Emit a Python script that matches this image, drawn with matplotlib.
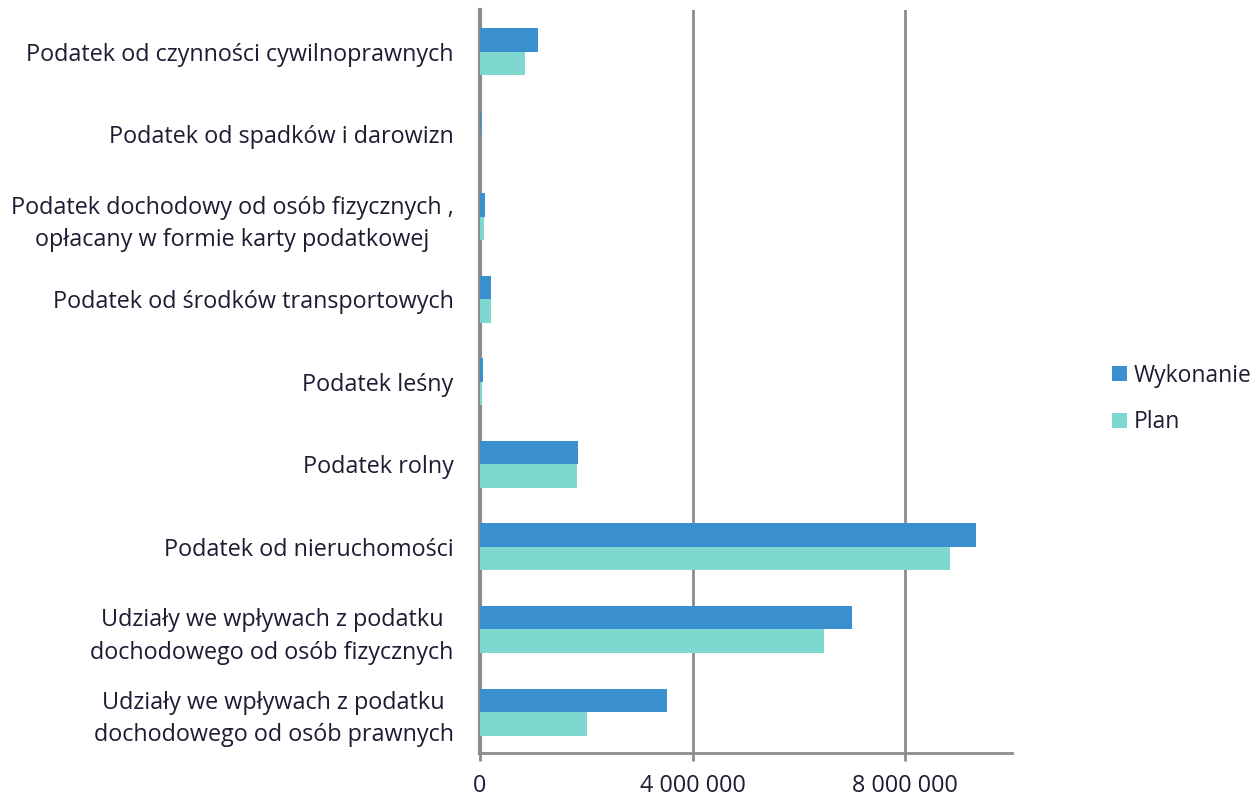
import matplotlib.pyplot as plt
import numpy as np

# categories from top to bottom
categories = [
    "Podatek od czynności cywilnoprawnych",
    "Podatek od spadków i darowizn",
    "Podatek dochodowy od osób fizycznych ,\nopłacany w formie karty podatkowej",
    "Podatek od środków transportowych",
    "Podatek leśny",
    "Podatek rolny",
    "Podatek od nieruchomości",
    "Udziały we wpływach z podatku\ndochodowego od osób fizycznych",
    "Udziały we wpływach z podatku\ndochodowego od osób prawnych",
]
wykonanie = [1090000, 15000, 100000, 210000, 50000, 1850000, 9320000, 7000000, 3520000]
plan = [850000, 5000, 80000, 210000, 30000, 1830000, 8830000, 6460000, 2010000]
xticks = [0, 4000000, 8000000]
xtick_labels = ["0", "4 000 000", "8 000 000"]

c_wyk = "#3a90cf"
c_plan = "#7fd8d0"
grid_c = "#8c8c8c"
text_c = "#1c1c33"

plt.rcParams['font.family'] = ['Open Sans', 'DejaVu Sans']

fig = plt.figure(figsize=(12.6, 7.98), dpi=100)
ax = fig.add_axes([0.381, 0.056, 0.422, 0.931])

n = len(categories)
y = np.arange(n)[::-1]
h = 0.285
ax.barh(y + h / 2, wykonanie, height=h, color=c_wyk, label="Wykonanie", zorder=3)
ax.barh(y - h / 2, plan, height=h, color=c_plan, label="Plan", zorder=3)

ax.set_xlim(0, 10000000)
ax.set_ylim(-0.5, n - 0.5)
ax.set_yticks(y)
ax.set_yticklabels(categories, multialignment='center', linespacing=1.45)
ax.set_xticks(xticks)
ax.set_xticklabels(xtick_labels)
ax.tick_params(axis='y', length=0, pad=19, labelsize=16.8, labelcolor=text_c)
ax.tick_params(axis='x', length=6, width=2, color=grid_c, pad=9, labelsize=16.8, labelcolor=text_c)

for xv in xticks[1:]:
    ax.axvline(xv, color=grid_c, lw=2, zorder=1)

for s in ['top', 'right']:
    ax.spines[s].set_visible(False)
ax.spines['left'].set_color(grid_c)
ax.spines['left'].set_linewidth(3)
ax.spines['left'].set_zorder(2)
ax.spines['bottom'].set_color(grid_c)
ax.spines['bottom'].set_linewidth(2)

leg = fig.legend(loc='center left', bbox_to_anchor=(0.866, 0.5), frameon=False,
                 fontsize=16.5, handlelength=0.65, handleheight=0.65, handletextpad=0.3,
                 labelspacing=1.0)
for t in leg.get_texts():
    t.set_color(text_c)

fig.savefig("out.png", dpi=100)
